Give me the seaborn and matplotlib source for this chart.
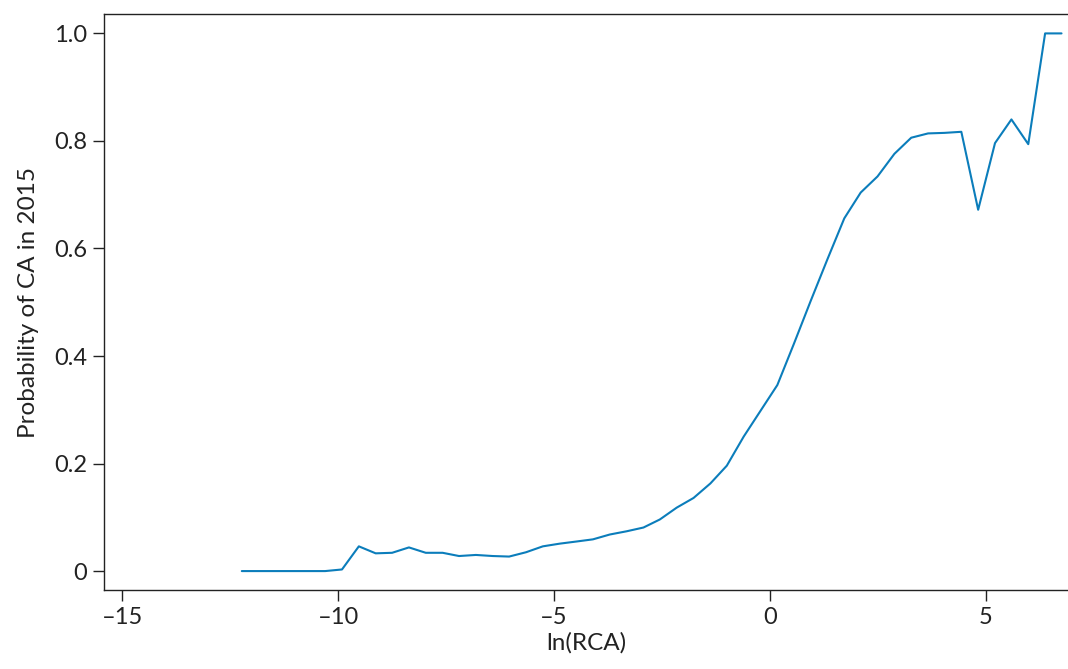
import numpy as np
import pandas as pd
import matplotlib
matplotlib.use("Agg")
import matplotlib.pyplot as plt
import seaborn as sns

# valori: ln(RCA) e probabilita' di CA nel 2015
ln_rca = [-12.23, -11.84, -11.45, -11.07, -10.68, -10.30, -9.91, -9.52, -9.13, -8.75,
          -8.36, -7.97, -7.58, -7.20, -6.81, -6.42, -6.04, -5.65, -5.26, -4.87,
          -4.48, -4.10, -3.71, -3.32, -2.93, -2.55, -2.16, -1.77, -1.38, -1.00,
          -0.61, -0.22, 0.17, 0.55, 0.94, 1.33, 1.72, 2.10, 2.49, 2.88,
          3.27, 3.66, 4.04, 4.43, 4.82, 5.21, 5.59, 5.98, 6.37, 6.75]
prob_ca = [0.0, 0.0, 0.0, 0.0, 0.0, 0.0, 0.003, 0.046, 0.033, 0.034,
           0.044, 0.034, 0.034, 0.028, 0.030, 0.028, 0.027, 0.035, 0.046, 0.051,
           0.055, 0.059, 0.068, 0.074, 0.081, 0.096, 0.118, 0.136, 0.163, 0.196,
           0.250, 0.298, 0.346, 0.422, 0.502, 0.580, 0.656, 0.704, 0.734, 0.776,
           0.806, 0.814, 0.815, 0.817, 0.672, 0.796, 0.840, 0.794, 1.0, 1.0]

x_ticks = [-15, -10, -5, 0, 5]
x_tick_labels = ["\u201315", "\u201310", "\u20135", "0", "5"]
y_ticks = [0, 0.2, 0.4, 0.6, 0.8, 1.0]
y_tick_labels = ["0", "0.2", "0.4", "0.6", "0.8", "1.0"]

df = pd.DataFrame({"ln_rca": ln_rca, "prob": prob_ca})

sns.set_style("ticks")
plt.rcParams["font.family"] = ["Lato", "DejaVu Sans"]

fig = plt.figure(figsize=(10.68, 6.69), dpi=100)
ax = fig.add_axes([0.0974, 0.118, 0.9026, 0.861])

sns.lineplot(data=df, x="ln_rca", y="prob", color="#0B7DBB", linewidth=1.5, ax=ax)

ax.set_xlim(-15.42, 6.90)
ax.set_ylim(-0.0353, 1.036)
ax.set_xticks(x_ticks)
ax.set_xticklabels(x_tick_labels)
ax.set_yticks(y_ticks)
ax.set_yticklabels(y_tick_labels)

ax.set_xlabel("ln(RCA)", fontsize=17.5, color="#222222", labelpad=3)
ax.set_ylabel("Probability of CA in 2015", fontsize=17.5, color="#222222", labelpad=11)
ax.tick_params(axis="both", labelsize=17, length=8, width=1.0, color="#222222",
               labelcolor="#222222", direction="out", pad=4)

for side in ["left", "top", "bottom"]:
    ax.spines[side].set_visible(True)
    ax.spines[side].set_color("#222222")
    ax.spines[side].set_linewidth(1.0)
ax.spines["right"].set_visible(False)

fig.savefig("out.png", dpi=100)
